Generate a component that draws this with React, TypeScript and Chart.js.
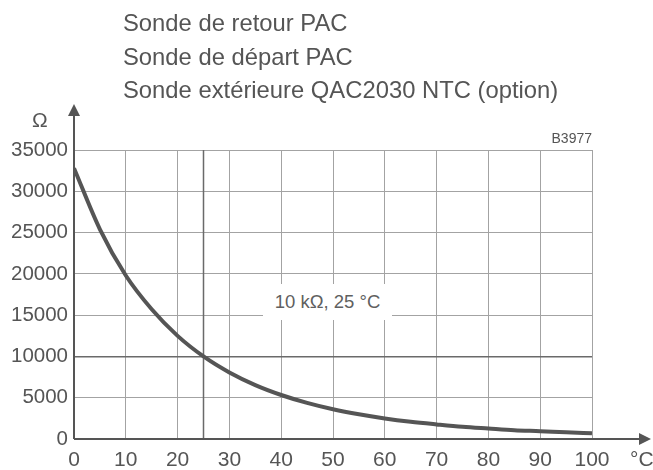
import React, { useEffect, useRef } from "react";
import { Chart, registerables } from "chart.js";

Chart.register(...registerables);

const temperatures = [0, 5, 10, 15, 20, 25, 30, 35, 40, 45, 50, 55, 60, 65, 70, 75, 80, 85, 90, 95, 100];
const resistances = [32800, 25390, 19800, 15710, 12490, 10000, 8060, 6530, 5330, 4370, 3600, 2990, 2490, 2090, 1770, 1480, 1270, 1070, 950, 810, 700];
const titleLines = ["Sonde de retour PAC", "Sonde de départ PAC", "Sonde extérieure QAC2030 NTC (option)"];
const refTemperature = 25;
const refResistance = 10000;
const annotationText = "10 kΩ, 25 °C";
const codeLabel = "B3977";

const FONT = '"Liberation Sans", Arial, sans-serif';
const TEXT = "#555555";

const axesPlugin = {
  id: "axesArrows",
  beforeDatasetsDraw(chart: any) {
    const { ctx, chartArea, scales } = chart;
    const x = scales.x.getPixelForValue(refTemperature);
    ctx.save();
    ctx.strokeStyle = "#6a6a6a";
    ctx.lineWidth = 1.5;
    ctx.beginPath();
    ctx.moveTo(x, chartArea.top);
    ctx.lineTo(x, chartArea.bottom);
    ctx.stroke();
    ctx.restore();
  },
  afterDraw(chart: any) {
    const { ctx, chartArea } = chart;
    const l = chartArea.left;
    const b = chartArea.bottom;
    ctx.save();
    ctx.strokeStyle = TEXT;
    ctx.fillStyle = TEXT;
    ctx.lineWidth = 2;
    ctx.beginPath();
    ctx.moveTo(l, b);
    ctx.lineTo(l, 114);
    ctx.moveTo(l, b);
    ctx.lineTo(640, b);
    ctx.stroke();
    ctx.beginPath();
    ctx.moveTo(l, 104);
    ctx.lineTo(l - 6, 116);
    ctx.lineTo(l + 6, 116);
    ctx.closePath();
    ctx.fill();
    ctx.beginPath();
    ctx.moveTo(651, b);
    ctx.lineTo(639, b - 6);
    ctx.lineTo(639, b + 6);
    ctx.closePath();
    ctx.fill();
    ctx.restore();
  },
};

export default function App() {
  const canvasRef = useRef<HTMLCanvasElement | null>(null);

  useEffect(() => {
    if (!canvasRef.current) return;
    const chart = new Chart(canvasRef.current, {
      type: "line",
      data: {
        datasets: [
          {
            data: temperatures.map((t, i) => ({ x: t, y: resistances[i] })),
            borderColor: "#555555",
            borderWidth: 4,
            pointRadius: 0,
            tension: 0.4,
            cubicInterpolationMode: "monotone",
            fill: false,
          },
        ],
      },
      options: {
        animation: false,
        responsive: false,
        maintainAspectRatio: false,
        layout: { padding: { left: 0, right: 61, top: 150, bottom: 0 } },
        plugins: { legend: { display: false }, tooltip: { enabled: false }, title: { display: false } },
        scales: {
          x: {
            type: "linear",
            min: 0,
            max: 100,
            ticks: {
              stepSize: 10,
              color: TEXT,
              font: { family: FONT, size: 21 },
              padding: 9,
              maxRotation: 0,
              autoSkip: false,
            },
            grid: { color: "#a3a3a3", lineWidth: 1, drawTicks: false },
            border: { display: false },
            afterFit(scale: any) {
              scale.height = 31;
            },
          },
          y: {
            type: "linear",
            min: 0,
            max: 35000,
            ticks: {
              stepSize: 5000,
              color: TEXT,
              font: { family: FONT, size: 20.5 },
              padding: 6,
              callback: (v: any) => String(v),
            },
            grid: {
              color: (c: any) => (c.tick && c.tick.value === refResistance ? "#6a6a6a" : "#a3a3a3"),
              lineWidth: (c: any) => (c.tick && c.tick.value === refResistance ? 1.5 : 1),
              drawTicks: false,
            },
            border: { display: false },
            afterFit(scale: any) {
              scale.width = 74;
            },
          },
        },
      },
      plugins: [axesPlugin],
    } as any);
    return () => chart.destroy();
  }, []);

  const abs = (extra: React.CSSProperties): React.CSSProperties => ({
    position: "absolute",
    fontFamily: FONT,
    color: TEXT,
    whiteSpace: "nowrap",
    lineHeight: 1,
    ...extra,
  });

  return (
    <div style={{ position: "fixed", left: 0, top: 0, width: 653, height: 470, background: "#fff" }}>
      <canvas ref={canvasRef} width={653} height={470} style={{ position: "absolute", left: 0, top: 0 }} />
      {titleLines.map((t, i) => (
        <div key={i} style={abs({ left: 123, top: 11 + i * 33.5, fontSize: 23.8 })}>
          {t}
        </div>
      ))}
      <div style={abs({ left: 32, top: 109, fontSize: 21 })}>Ω</div>
      <div style={abs({ left: 630, top: 448, fontSize: 21 })}>°C</div>
      <div style={abs({ right: 653 - 592, top: 131, fontSize: 14 })}>{codeLabel}</div>
      <div
        style={abs({
          left: 263,
          top: 284,
          width: 129,
          height: 36,
          background: "#fff",
          fontSize: 18.5,
          color: "#606060",
          display: "flex",
          alignItems: "center",
          justifyContent: "center",
        })}
      >
        {annotationText}
      </div>
    </div>
  );
}
